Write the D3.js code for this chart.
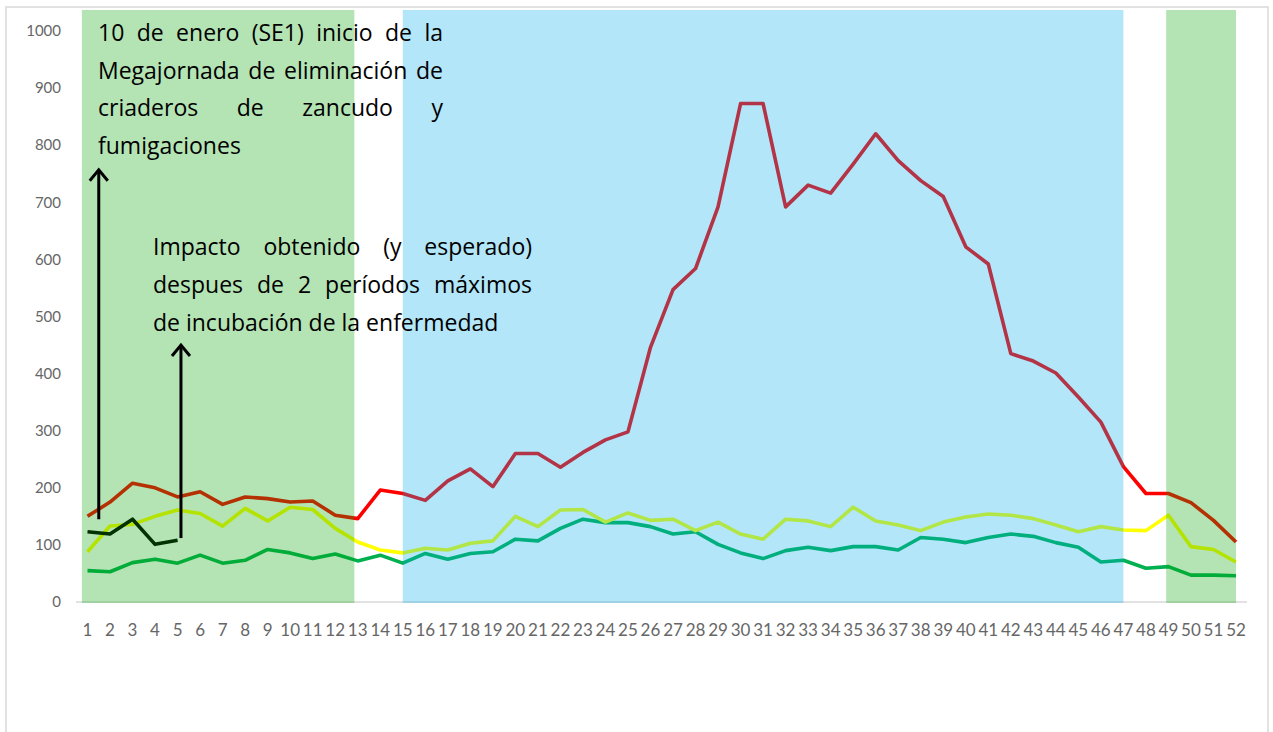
<!DOCTYPE html>
<html>
<head>
<meta charset="utf-8">
<script src="https://cdn.jsdelivr.net/npm/d3@7"></script>
<style>
  body { margin: 0; background: #fff; }
  svg { display: block; font-family: Lato, 'Open Sans', sans-serif; }
</style>
</head>
<body>
<svg class="chart" width="1273" height="732"></svg>
<script>
var weeks = d3.range(1, 53);
var yTicks = [0, 100, 200, 300, 400, 500, 600, 700, 800, 900, 1000];

// casos por semana epidemiologica
var redSeries = [150, 175, 208, 200, 184, 193, 171, 184, 181, 175,
  177, 152, 146, 196, 190, 178, 212, 233, 202, 260,
  260, 236, 262, 284, 298, 446, 547, 584, 692, 873,
  873, 692, 730, 716, 767, 820, 773, 738, 710, 622,
  592, 435, 422, 401, 359, 315, 237, 190, 190, 174,
  143, 105];
var yellowSeries = [88, 133, 136, 150, 161, 155, 133, 164, 142, 166,
  162, 129, 105, 91, 86, 94, 91, 103, 107, 150,
  132, 161, 162, 140, 156, 143, 145, 125, 140, 119,
  110, 145, 142, 132, 166, 142, 135, 125, 140, 149,
  154, 152, 146, 135, 123, 132, 126, 125, 152, 97,
  92, 70];
var greenSeries = [55, 53, 69, 75, 68, 82, 68, 73, 92, 86,
  76, 84, 72, 82, 68, 85, 75, 85, 88, 110,
  107, 129, 145, 139, 139, 132, 119, 123, 101, 86,
  76, 90, 96, 90, 97, 97, 91, 113, 110, 104,
  113, 119, 115, 104, 96, 70, 73, 59, 62, 47,
  47, 46];
var blackWeeks = [1, 2, 3, 4, 5];
var blackSeries = [123, 119, 145, 101, 108];

// periodos sombreados (semanas)
var bandStart = [0.75, 15, 48.9];
var bandEnd = [12.85, 47, 52];
var bandColor = ['rgb(8,162,5)', 'rgb(0,172,232)', 'rgb(8,162,5)'];

var note1 = ['10 de enero (SE1) inicio de la', 'Megajornada de eliminación de',
  'criaderos de zancudo y', 'fumigaciones'];
var note2 = ['Impacto obtenido (y esperado)', 'despues de 2 períodos máximos',
  'de incubación de la enfermedad'];

(function() {
  'use strict';
  var svg = d3.select('.chart');

  var x = d3.scalePoint().domain(weeks).range([87.5, 1236]);
  var xw = d3.scaleLinear().domain([1, 52]).range([87.5, 1236]);
  var y = d3.scaleLinear().domain([0, 1000]).range([602, 31]);

  // marco
  svg.append('rect')
    .attr('x', 6).attr('y', 7).attr('width', 1262).attr('height', 740)
    .attr('fill', 'none').attr('stroke', '#d9d9d9').attr('stroke-width', 1.5);

  svg.append('line')
    .attr('x1', 76).attr('x2', 1247).attr('y1', y(0)).attr('y2', y(0))
    .attr('stroke', '#d9d9d9').attr('stroke-width', 1.5);

  svg.selectAll('.ylab')
      .data(yTicks)
    .enter().append('text')
      .attr('class', 'ylab')
      .attr('x', 61)
      .attr('y', function(d) { return y(d); })
      .attr('dy', '0.35em')
      .attr('text-anchor', 'end')
      .attr('font-size', 15)
      .attr('fill', '#666')
      .text(function(d) { return d; });

  svg.selectAll('.xlab')
      .data(weeks)
    .enter().append('text')
      .attr('class', 'xlab')
      .attr('x', function(d) { return x(d); })
      .attr('y', 636)
      .attr('text-anchor', 'middle')
      .attr('font-size', 17)
      .attr('fill', '#666')
      .text(function(d) { return d; });

  function drawLine(xs, vals, color) {
    var line = d3.line()
      .x(function(d, i) { return x(xs[i]); })
      .y(function(d) { return y(d); });
    svg.append('path')
      .datum(vals)
      .attr('d', line)
      .attr('fill', 'none')
      .attr('stroke', color)
      .attr('stroke-width', 3.6)
      .attr('stroke-linejoin', 'round');
  }

  drawLine(weeks, greenSeries, '#00b050');
  drawLine(weeks, yellowSeries, '#ffff00');
  drawLine(weeks, redSeries, '#ff0000');
  drawLine(blackWeeks, blackSeries, '#000000');

  // bandas semitransparentes encima de las lineas
  svg.selectAll('.band')
      .data(bandStart)
    .enter().append('rect')
      .attr('class', 'band')
      .attr('x', function(d) { return xw(d); })
      .attr('width', function(d, i) { return xw(bandEnd[i]) - xw(d); })
      .attr('y', 10)
      .attr('height', y(0) + 1 - 10)
      .attr('fill', function(d, i) { return bandColor[i]; })
      .attr('fill-opacity', 0.3);

  function arrow(week, from, to) {
    var ax = xw(week), y0 = y(from), y1 = y(to);
    svg.append('line')
      .attr('x1', ax).attr('x2', ax).attr('y1', y0).attr('y2', y1 + 1)
      .attr('stroke', '#000').attr('stroke-width', 3);
    svg.append('path')
      .attr('d', 'M' + (ax - 9) + ',' + (y1 + 11) + 'L' + ax + ',' + y1 + 'L' + (ax + 9) + ',' + (y1 + 11))
      .attr('fill', 'none').attr('stroke', '#000').attr('stroke-width', 3);
  }
  arrow(1.5, 145, 757);
  arrow(5.15, 112, 450);

  function justified(lines, x0, x1, baseline, lh) {
    lines.forEach(function(str, li) {
      var t = svg.append('text')
        .attr('y', baseline + li * lh)
        .attr('font-family', "'Open Sans', Lato, sans-serif")
        .attr('font-size', 23)
        .attr('fill', '#000');
      if (li === lines.length - 1) {
        t.attr('x', x0).text(str);
        return;
      }
      var words = str.split(' ');
      var spans = words.map(function(w) { return t.append('tspan').text(w); });
      var widths = spans.map(function(s) { return s.node().getComputedTextLength(); });
      var gap = (x1 - x0 - d3.sum(widths)) / (words.length - 1);
      var cx = x0;
      spans.forEach(function(s, i) {
        s.attr('x', cx);
        cx += widths[i] + gap;
      });
    });
  }
  justified(note1, 98, 443, 41, 37.7);
  justified(note2, 153, 532, 255, 38);
}());
</script>
</body>
</html>
